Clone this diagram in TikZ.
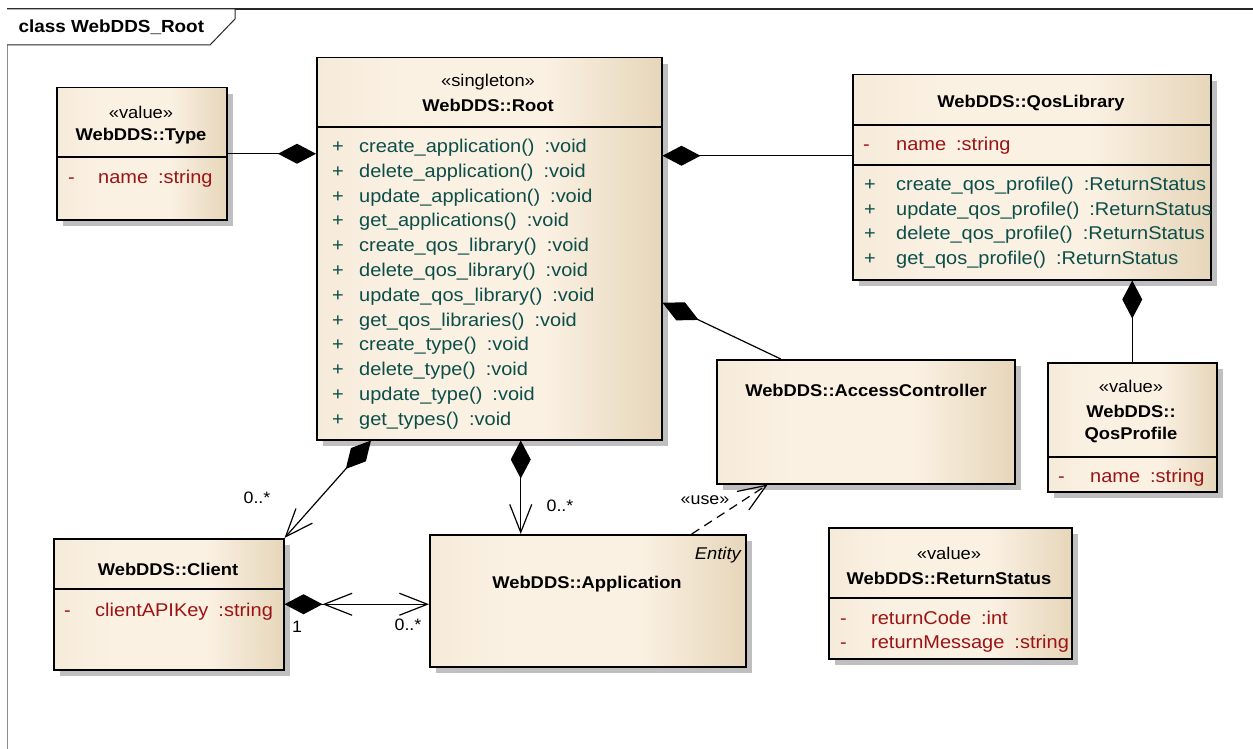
\documentclass[tikz,border=0pt]{standalone}
\usepackage{fontspec}
\setmainfont{Liberation Sans}[FakeStretch=1.08]
\usetikzlibrary{arrows.meta,shadows,positioning}

\definecolor{umlLight}{RGB}{251,241,227}
\definecolor{umlEdge}{RGB}{246,235,218}
\definecolor{umlDark}{RGB}{230,214,186}
\definecolor{attrRed}{RGB}{155,20,20}
\definecolor{opTeal}{RGB}{12,78,74}
\pgfdeclarehorizontalshading{umlfill}{100bp}{color(0bp)=(umlEdge); color(25bp)=(umlEdge); color(38bp)=(umlLight); color(58bp)=(umlLight); color(75bp)=(umlDark); color(100bp)=(umlDark)}

\newcommand{\rtype}[1]{\hspace{10pt}:#1}
\newcommand{\vis}[2][30pt]{\makebox[#1][l]{#2}}

\tikzset{
  classbox/.style={draw=black, line width=1.5pt, shade, shading=umlfill, anchor=north west, inner sep=0pt,
    drop shadow={shadow xshift=6pt, shadow yshift=-6pt, fill=black!25, opacity=1}},
  divider/.style={line width=1.2pt},
  titletext/.style={font=\bfseries\fontsize{17}{20}\selectfont, inner sep=0pt},
  stereotext/.style={font=\fontsize{17}{20}\selectfont, inner sep=0pt},
  attrtext/.style={anchor=west, text=attrRed, inner sep=0pt, text height=13pt, text depth=4pt,
    font=\fontsize{18.5}{21}\selectfont},
  optext/.style={anchor=west, text=opTeal, inner sep=0pt, text height=13pt, text depth=4pt,
    font=\fontsize{18.5}{21}\selectfont},
  multtext/.style={font=\fontsize{16.5}{19}\selectfont, inner sep=0pt},
  assoc/.style={line width=1.2pt},
  comptip/.tip={Diamond[length=38pt,width=20pt]},
  navtip/.tip={Straight Barb[length=28pt,width=22pt]}
}

\begin{document}
\begin{tikzpicture}[x=1pt,y=-1pt,font=\fontsize{18}{21}\selectfont]
\useasboundingbox (0,0) rectangle (1253,749);

% diagram frame
\draw[black!45, line width=1pt] (7,760) -- (7,9);
\draw[black!85, line width=1.2pt] (7,9) -- (1265,9);
\draw[black!85, line width=1pt, fill=white] (7,9) -- (235,9) -- (235,19) -- (210,45) -- (7,45);
\node[anchor=west, font=\bfseries\fontsize{17.5}{20}\selectfont] (frametitle) at (15,27) {class WebDDS\_Root};

% class boxes
\node[classbox, minimum width=170pt, minimum height=132pt] (type) at (56,87) {};
\node[classbox, minimum width=345pt, minimum height=382pt] (root) at (316,57) {};
\node[classbox, minimum width=358pt, minimum height=205pt] (qlib) at (852,74) {};
\node[classbox, minimum width=298pt, minimum height=124pt] (acc) at (716,359) {};
\node[classbox, minimum width=169pt, minimum height=129pt] (qprof) at (1047,362) {};
\node[classbox, minimum width=230pt, minimum height=131pt] (client) at (53,538) {};
\node[classbox, minimum width=316pt, minimum height=132pt] (app) at (429,534) {};
\node[classbox, minimum width=243pt, minimum height=131pt] (rstat) at (828,527) {};

% compartments
\draw[divider] ([yshift=-70pt]type.north west) -- ([yshift=-70pt]type.north east);
\draw[divider] ([yshift=-70pt]root.north west) -- ([yshift=-70pt]root.north east);
\draw[divider] ([yshift=-51pt]qlib.north west) -- ([yshift=-51pt]qlib.north east);
\draw[divider] ([yshift=-91pt]qlib.north west) -- ([yshift=-91pt]qlib.north east);
\draw[divider] ([yshift=-95pt]qprof.north west) -- ([yshift=-95pt]qprof.north east);
\draw[divider] ([yshift=-51pt]client.north west) -- ([yshift=-51pt]client.north east);
\draw[divider] ([yshift=-71pt]rstat.north west) -- ([yshift=-71pt]rstat.north east);

% WebDDS::Type
\node[stereotext] (typeStereo) at (141,112) {«value»};
\node[titletext] (typeName) at (141,136) {WebDDS::Type};
\node[attrtext] (typeAttr) at (68,179) {\vis{-}name\rtype{string}};

% WebDDS::Root
\node[stereotext] (rootStereo) at (488,82) {«singleton»};
\node[titletext] (rootName) at (488,105) {WebDDS::Root};
\foreach \op [count=\i from 0] in {create\_application(), delete\_application(), update\_application(),
    get\_applications(), create\_qos\_library(), delete\_qos\_library(), update\_qos\_library(),
    get\_qos\_libraries(), create\_type(), delete\_type(), update\_type(), get\_types()}
  \node[optext] (rootOp\i) at (332,{148+24.8*\i}) {\vis[27pt]{+}\op\rtype{void}};

% WebDDS::QosLibrary
\node[titletext] (qlibName) at (1031,103) {WebDDS::QosLibrary};
\node[attrtext] (qlibAttr) at (863,146) {\vis[33pt]{-}name\rtype{string}};
\foreach \op [count=\i from 0] in {create\_qos\_profile(), update\_qos\_profile(), delete\_qos\_profile(), get\_qos\_profile()}
  \node[optext] (qlibOp\i) at (864,{186+24.7*\i}) {\vis[32pt]{+}\op\rtype{ReturnStatus}};

% WebDDS::AccessController
\node[titletext] (accName) at (866,390) {WebDDS::AccessController};

% WebDDS::QosProfile
\node[stereotext] (qprofStereo) at (1131,386) {«value»};
\node[titletext] (qprofName) at (1131,411) {WebDDS::};
\node[titletext] (qprofName2) at (1131,435) {QosProfile};
\node[attrtext] (qprofAttr) at (1058,478) {\vis[32pt]{-}name\rtype{string}};

% WebDDS::Client
\node[titletext] (clientName) at (168,569) {WebDDS::Client};
\node[attrtext] (clientAttr) at (64,612) {\vis[31pt]{-}clientAPIKey\rtype{string}};

% WebDDS::Application
\node[anchor=east, font=\itshape\fontsize{17}{20}\selectfont, inner sep=0pt] (appStereo) at (741,555) {Entity};
\node[titletext] (appName) at (587,584) {WebDDS::Application};

% WebDDS::ReturnStatus
\node[stereotext] (rstatStereo) at (949,553) {«value»};
\node[titletext] (rstatName) at (949,578) {WebDDS::ReturnStatus};
\node[attrtext] (rstatAttr1) at (840,620) {\vis[31pt]{-}returnCode\rtype{int}};
\node[attrtext] (rstatAttr2) at (840,644) {\vis[31pt]{-}returnMessage\rtype{string}};

% connectors
\coordinate (qlibL) at ([yshift=21.5pt]qlib.west);
\coordinate (rootR) at ([yshift=-54pt]root.east);
\coordinate (accT) at ([xshift=-85pt]acc.north);
\coordinate (rootB) at ([xshift=55pt]root.south west);
\coordinate (appT) at ([xshift=-67pt]app.north);
\coordinate (appU) at ([xshift=104pt]app.north);
\coordinate (accB) at ([xshift=-98pt]acc.south);

\draw[assoc, {comptip[]}-] (type.east -| root.west) -- (type.east);
\draw[assoc, {comptip[]}-] (qlibL -| root.east) -- (qlibL);
\draw[assoc, {comptip[]}-] (qprof.north |- qlib.south) -- (qprof.north);
\draw[assoc, {Diamond[length=40pt,width=20pt]}-] (rootR) -- (accT);
\draw[assoc, {comptip[]}-{navtip[]}] (rootB) -- (client.north east);
\draw[assoc, {comptip[]}-{navtip[]}] (appT |- root.south) -- (appT);
\draw[assoc, {comptip[] navtip[]}-{navtip[]}] (client.east) -- (client.east -| app.west);
\draw[assoc, dash pattern=on 9pt off 6pt, -{navtip[]}] (appU) -- (accB);

% multiplicities and labels
\node[multtext] (multClient) at (257,498) {0..*};
\node[multtext] (multApp) at (560,506) {0..*};
\node[multtext] (multAppL) at (408,625) {0..*};
\node[multtext] (multOne) at (297,627) {1};
\node[multtext] (useLabel) at (705,500) {«use»};
\end{tikzpicture}
\end{document}
